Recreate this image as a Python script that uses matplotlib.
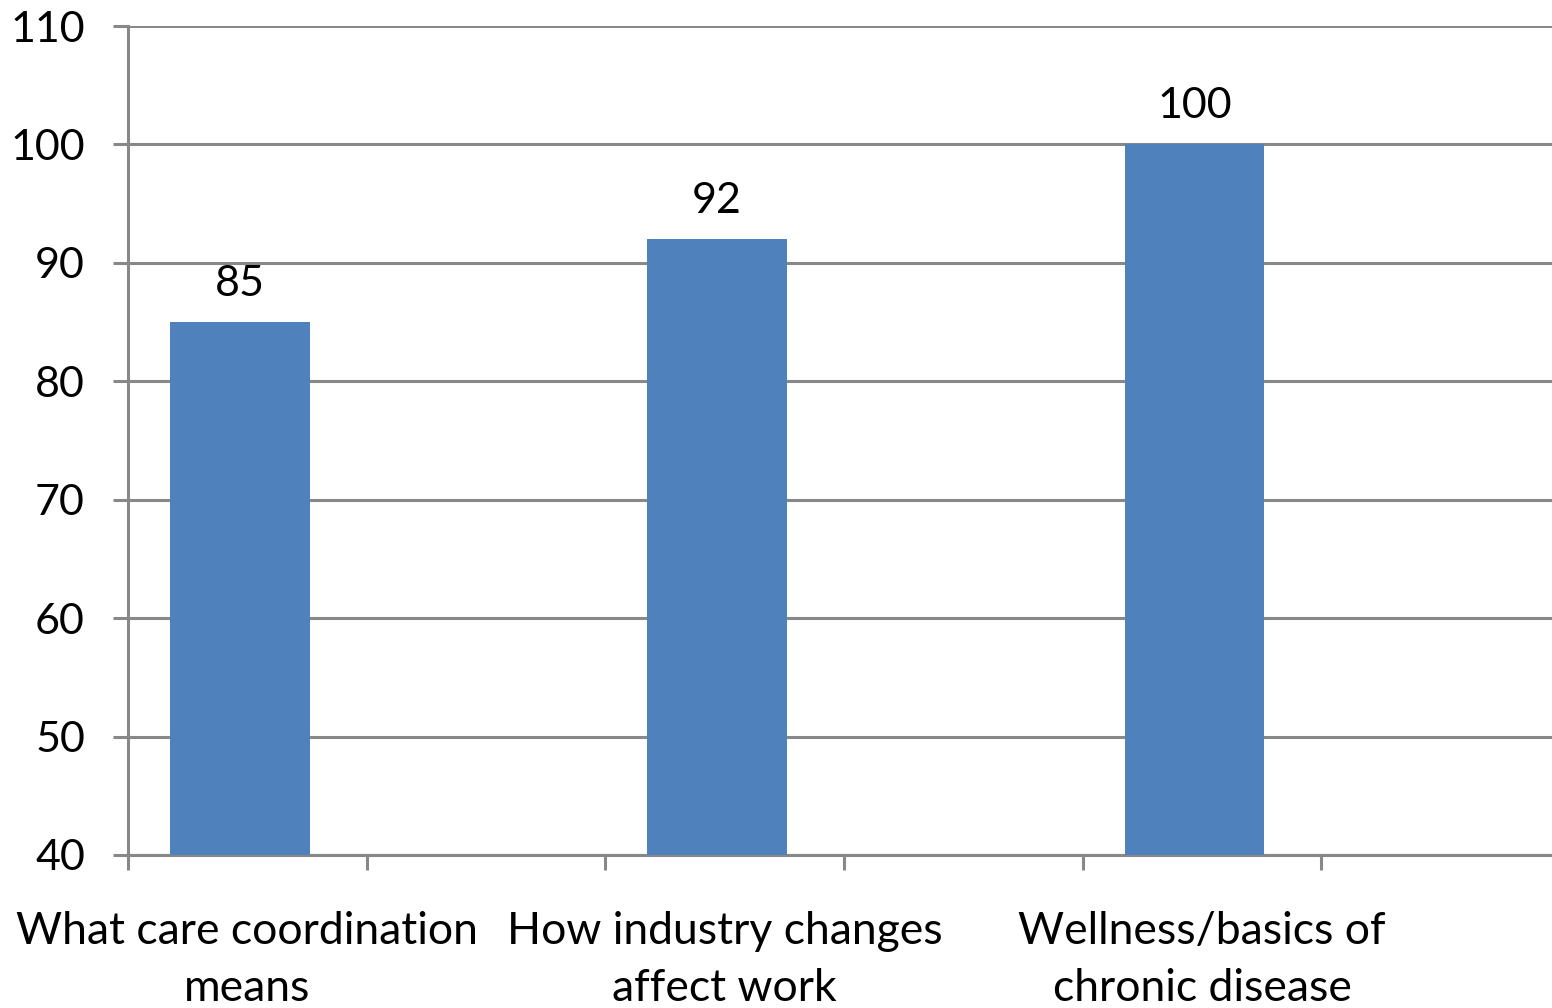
import matplotlib
matplotlib.use("Agg")
import matplotlib.pyplot as plt

# 6 category slots, only every other one carries a bar
categories = ["What care coordination\nmeans", "", "How industry changes\naffect work", "",
              "Wellness/basics of\nchronic disease", ""]
values = [85, None, 92, None, 100, None]
y_ticks = [40, 50, 60, 70, 80, 90, 100, 110]

plt.rcParams["font.family"] = ["Lato", "DejaVu Sans"]

fig = plt.figure(figsize=(15.52, 10.08), dpi=100)
W, H = 1552, 1008
left, right, top, bottom = 128, 1560, 26, 855
ax = fig.add_axes([left / W, 1 - bottom / H, (right - left) / W, (bottom - top) / H])

bar_color = "#4F81BD"
grid_color = "#888888"
bar_shift = -0.032  # bars sit slightly left of the slot centre, as in Excel

xs = [i for i, v in enumerate(values) if v is not None]
vs = [v for v in values if v is not None]
bx = [x + bar_shift for x in xs]
ax.bar(bx, [v - 40 for v in vs], bottom=40, width=0.585, color=bar_color, zorder=3)
for x, v in zip(bx, vs):
    ax.text(x, v + 1.6, str(v), ha="center", va="bottom", fontsize=31, color="black", zorder=4)

ax.set_xlim(-0.5, len(categories) - 0.5)
ax.set_ylim(40, 110)
ax.set_yticks(y_ticks)
ax.set_yticklabels([str(t) for t in y_ticks], fontsize=31)

ax.set_xticks([i - 0.5 for i in range(len(categories) + 1)])
ax.set_xticklabels([])
ax.set_xticks(xs, minor=True)
ax.set_xticklabels([categories[i] for i in xs], minor=True, fontsize=32, linespacing=1.5)

ax.tick_params(axis="y", direction="out", length=11, width=2.2, color=grid_color, pad=20)
ax.tick_params(axis="x", which="major", direction="out", length=11, width=2.2, color=grid_color)
ax.tick_params(axis="x", which="minor", length=0, pad=40)

ax.grid(axis="y", color=grid_color, linewidth=2.2, zorder=0)
ax.set_axisbelow(True)
for side in ["top", "right"]:
    ax.spines[side].set_visible(False)
for side in ["left", "bottom"]:
    ax.spines[side].set_color(grid_color)
    ax.spines[side].set_linewidth(2.2)

fig.savefig("out.png", dpi=100)
